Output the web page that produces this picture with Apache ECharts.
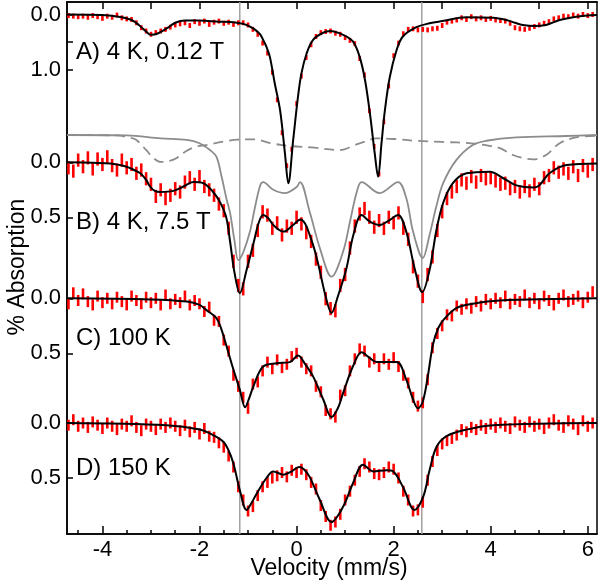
<!DOCTYPE html>
<html>
<head>
<meta charset="utf-8">
<script src="https://cdn.jsdelivr.net/npm/echarts/dist/echarts.min.js"></script>
<style>html,body{margin:0;padding:0;background:#fff}#c{width:600px;height:584px}</style>
</head>
<body>
<div id="c"></div>
<script>
// ---------- data ----------
const velocity = [-4.7,-4.6,-4.5,-4.4,-4.3,-4.2,-4.1,-4.0,-3.9,-3.8,-3.7,-3.6,-3.5,-3.4,-3.3,-3.2,-3.1,-3.0,-2.9,-2.8,-2.7,-2.6,-2.5,-2.4,-2.3,-2.2,-2.1,-2.0,-1.9,-1.8,-1.7,-1.6,-1.5,-1.4,-1.3,-1.2,-1.1,-1.0,-0.9,-0.8,-0.7,-0.6,-0.5,-0.4,-0.3,-0.2,-0.1,0.0,0.1,0.2,0.3,0.4,0.5,0.6,0.7,0.8,0.9,1.0,1.1,1.2,1.3,1.4,1.5,1.6,1.7,1.8,1.9,2.0,2.1,2.2,2.3,2.4,2.5,2.6,2.7,2.8,2.9,3.0,3.1,3.2,3.3,3.4,3.5,3.6,3.7,3.8,3.9,4.0,4.1,4.2,4.3,4.4,4.5,4.6,4.7,4.8,4.9,5.0,5.1,5.2,5.3,5.4,5.5,5.6,5.7,5.8,5.9,6.0,6.1];

const dataA = [0.02,0.03,0.04,0.03,0.05,0.02,0.04,0.07,0.03,0.05,0.01,0.06,0.08,0.09,0.15,0.24,0.30,0.36,0.33,0.30,0.27,0.23,0.19,0.17,0.15,0.20,0.13,0.16,0.12,0.18,0.14,0.12,0.16,0.14,0.18,0.15,0.15,0.19,0.27,0.36,0.52,0.70,1.05,1.55,2.15,2.75,2.45,1.62,1.12,0.78,0.55,0.40,0.33,0.31,0.30,0.34,0.36,0.42,0.47,0.53,0.80,1.10,1.75,2.40,2.90,1.95,1.30,0.75,0.52,0.35,0.27,0.26,0.28,0.27,0.28,0.26,0.25,0.20,0.14,0.12,0.10,0.06,0.09,0.04,0.08,0.06,0.09,0.07,0.10,0.11,0.12,0.16,0.24,0.26,0.27,0.25,0.22,0.19,0.16,0.13,0.08,0.06,0.03,0.04,0.01,0.03,0.00,0.02,0.00];

const dataB = [0.05,0.08,-0.02,0.04,-0.04,0.06,-0.03,0.02,-0.05,0.03,0.07,-0.02,0.05,0.02,0.10,0.07,0.15,0.20,0.31,0.25,0.33,0.30,0.24,0.27,0.18,0.14,0.20,0.13,0.22,0.25,0.30,0.38,0.44,0.60,0.90,1.12,1.15,0.90,0.80,0.62,0.45,0.48,0.60,0.55,0.66,0.58,0.60,0.50,0.56,0.64,0.72,0.88,1.00,1.24,1.33,1.35,1.12,1.02,0.78,0.58,0.47,0.42,0.50,0.59,0.53,0.60,0.50,0.55,0.46,0.60,0.70,0.95,1.08,1.22,1.02,0.86,0.62,0.45,0.33,0.27,0.22,0.16,0.19,0.13,0.18,0.12,0.15,0.14,0.17,0.20,0.19,0.24,0.22,0.27,0.22,0.26,0.20,0.24,0.14,0.12,0.05,0.09,0.06,0.10,0.04,0.12,0.03,0.08,0.02];

const dataC = [0.05,-0.05,0.02,-0.04,0.03,0.06,-0.02,0.04,0.00,0.05,-0.01,0.03,0.06,-0.02,0.02,0.05,-0.01,0.04,0.00,0.06,-0.03,0.05,0.01,0.04,-0.02,0.06,0.02,0.05,0.12,0.08,0.20,0.21,0.38,0.48,0.70,0.80,0.90,1.00,0.78,0.76,0.66,0.58,0.64,0.56,0.63,0.60,0.53,0.50,0.58,0.64,0.66,0.80,0.85,1.02,1.05,1.08,0.88,0.84,0.66,0.55,0.46,0.48,0.58,0.55,0.62,0.55,0.60,0.54,0.62,0.70,0.77,0.90,0.98,0.95,0.74,0.45,0.32,0.25,0.15,0.16,0.07,0.10,0.05,0.09,0.03,0.07,0.01,0.05,0.00,0.04,-0.02,0.05,0.01,0.03,-0.03,0.04,0.00,0.05,-0.02,0.02,0.06,0.00,-0.03,0.03,0.01,-0.02,0.04,-0.01,-0.06];

const dataD = [0.02,-0.03,0.03,0.00,0.04,-0.01,0.02,0.05,0.00,0.03,0.06,0.01,0.03,-0.02,0.04,0.07,0.01,0.03,0.06,0.01,0.04,0.00,0.03,0.07,0.02,0.08,0.04,0.10,0.05,0.12,0.13,0.18,0.22,0.30,0.40,0.58,0.70,0.80,0.76,0.66,0.58,0.54,0.50,0.48,0.45,0.49,0.43,0.45,0.42,0.47,0.54,0.60,0.75,0.85,0.93,0.90,0.83,0.70,0.62,0.52,0.44,0.37,0.40,0.46,0.47,0.45,0.40,0.42,0.50,0.62,0.70,0.80,0.79,0.72,0.52,0.35,0.25,0.19,0.16,0.14,0.11,0.06,0.08,0.04,0.06,0.02,0.05,0.01,0.04,0.00,0.03,0.05,-0.01,0.02,0.04,-0.01,0.03,0.01,0.05,0.00,-0.03,0.02,0.04,-0.02,0.01,0.06,-0.02,0.03,0.00];

const errA = 0.045, errB = 0.06, errC = 0.05, errD = 0.05;

const fitA = [[-4.73,0.00],[-4.0,0.01],[-3.6,0.05],[-3.4,0.10],[-3.25,0.19],[-3.1,0.31],[-3.0,0.37],[-2.85,0.34],[-2.67,0.25],[-2.5,0.15],[-2.3,0.11],[-2.0,0.11],[-1.6,0.13],[-1.3,0.14],[-1.1,0.17],[-0.96,0.22],[-0.85,0.28],[-0.75,0.36],[-0.69,0.46],[-0.62,0.59],[-0.55,0.77],[-0.45,1.25],[-0.34,1.74],[-0.24,2.52],[-0.17,3.07],[-0.07,2.28],[0.03,1.49],[0.10,1.07],[0.21,0.70],[0.34,0.46],[0.55,0.33],[0.69,0.30],[0.96,0.37],[1.16,0.49],[1.30,0.77],[1.41,1.19],[1.51,1.79],[1.61,2.52],[1.68,2.95],[1.75,2.34],[1.82,1.74],[1.92,1.14],[2.06,0.65],[2.19,0.40],[2.47,0.23],[2.74,0.16],[3.0,0.12],[3.5,0.05],[4.05,0.06],[4.32,0.10],[4.5,0.15],[4.66,0.19],[4.9,0.21],[5.14,0.19],[5.42,0.10],[5.76,0.04],[6.19,0.01]];

const fitB = [[-4.73,0.00],[-4.2,0.005],[-3.84,0.01],[-3.5,0.04],[-3.35,0.07],[-3.22,0.10],[-3.1,0.16],[-3.02,0.22],[-2.92,0.26],[-2.81,0.27],[-2.54,0.26],[-2.33,0.22],[-2.13,0.18],[-1.92,0.19],[-1.72,0.27],[-1.58,0.36],[-1.45,0.50],[-1.37,0.72],[-1.28,1.00],[-1.17,1.19],[-1.03,0.98],[-0.89,0.74],[-0.78,0.55],[-0.69,0.48],[-0.58,0.51],[-0.48,0.57],[-0.27,0.63],[-0.07,0.57],[0.08,0.52],[0.18,0.56],[0.27,0.66],[0.38,0.81],[0.48,0.99],[0.60,1.22],[0.72,1.37],[0.85,1.22],[1.03,0.96],[1.17,0.66],[1.34,0.48],[1.51,0.54],[1.71,0.57],[1.90,0.53],[2.09,0.48],[2.26,0.63],[2.43,0.96],[2.59,1.18],[2.74,0.98],[2.88,0.62],[3.02,0.37],[3.22,0.19],[3.5,0.10],[3.98,0.085],[4.26,0.145],[4.53,0.21],[4.87,0.23],[5.0,0.21],[5.21,0.10],[5.56,0.025],[6.19,0.01]];

const fitC = [[-4.73,0.00],[-3.0,0.01],[-2.26,0.03],[-2.0,0.06],[-1.85,0.11],[-1.65,0.18],[-1.55,0.28],[-1.44,0.44],[-1.30,0.65],[-1.17,0.83],[-1.06,0.99],[-0.97,0.90],[-0.89,0.80],[-0.69,0.62],[-0.41,0.59],[-0.14,0.58],[0.03,0.52],[0.18,0.60],[0.34,0.71],[0.55,0.92],[0.72,1.08],[0.85,1.00],[0.96,0.86],[1.16,0.62],[1.34,0.49],[1.5,0.54],[1.65,0.58],[2.06,0.58],[2.26,0.74],[2.40,0.92],[2.50,1.00],[2.60,0.94],[2.70,0.72],[2.81,0.42],[2.92,0.27],[3.02,0.20],[3.29,0.09],[3.63,0.05],[4.18,0.02],[6.19,0.00]];

const fitD = [[-4.73,0.00],[-2.68,0.02],[-1.99,0.06],[-1.72,0.11],[-1.51,0.17],[-1.40,0.25],[-1.30,0.37],[-1.17,0.61],[-1.03,0.79],[-0.92,0.72],[-0.82,0.64],[-0.62,0.50],[-0.48,0.44],[-0.27,0.47],[-0.1,0.44],[0.05,0.40],[0.15,0.42],[0.27,0.49],[0.48,0.70],[0.72,0.90],[0.96,0.76],[1.16,0.55],[1.37,0.38],[1.58,0.44],[1.86,0.43],[1.99,0.44],[2.19,0.58],[2.43,0.79],[2.61,0.67],[2.74,0.43],[2.88,0.22],[3.09,0.12],[3.5,0.06],[4.05,0.02],[6.19,0.00]];

// subspectra of panel B (plotted on panel B scale, shifted upward)
const compSolid = [[-4.73,-0.248],[-3.5,-0.244],[-2.8,-0.218],[-2.26,-0.203],[-2.0,-0.173],[-1.78,-0.11],[-1.65,-0.05],[-1.55,0.12],[-1.44,0.34],[-1.37,0.46],[-1.28,0.71],[-1.2,0.89],[-1.1,0.82],[-0.96,0.63],[-0.86,0.415],[-0.75,0.21],[-0.69,0.18],[-0.48,0.25],[-0.24,0.28],[0.0,0.225],[0.07,0.18],[0.27,0.45],[0.48,0.78],[0.72,1.04],[0.96,0.81],[1.10,0.54],[1.24,0.27],[1.34,0.18],[1.71,0.28],[2.09,0.18],[2.26,0.325],[2.40,0.63],[2.6,0.87],[2.74,0.66],[2.88,0.40],[3.02,0.19],[3.29,-0.02],[3.63,-0.157],[3.91,-0.196],[4.53,-0.227],[5.56,-0.239],[6.19,-0.248]];

const compDash = [[-4.73,-0.248],[-3.7,-0.244],[-3.45,-0.225],[-3.3,-0.203],[-3.1,-0.112],[-2.95,-0.04],[-2.8,-0.003],[-2.6,-0.016],[-2.47,-0.04],[-2.3,-0.094],[-2.1,-0.139],[-1.8,-0.162],[-1.5,-0.189],[-1.2,-0.207],[-0.9,-0.209],[-0.5,-0.171],[-0.14,-0.148],[0.3,-0.135],[0.9,-0.112],[1.2,-0.157],[1.4,-0.187],[1.64,-0.218],[2.0,-0.212],[2.5,-0.194],[3.0,-0.185],[3.6,-0.173],[4.0,-0.148],[4.2,-0.127],[4.46,-0.066],[4.7,-0.035],[4.87,-0.027],[5.14,-0.066],[5.42,-0.173],[5.76,-0.227],[6.19,-0.242]];

const refLines = [-1.17, 2.58];

const xLabelTicks = [-4,-2,0,2,4,6];
const xIntTicks = [-4,-3,-2,-1,0,1,2,3,4,5,6];
const xMinorTicks = [-4.5,-3.5,-3,-2.5,-1.5,-1,-0.5,0.5,1,1.5,2.5,3,3.5,4.5,5,5.5];

const panelLabels = ['A) 4 K, 0.12 T', 'B) 4 K, 7.5 T', 'C) 100 K', 'D) 150 K'];

// ---------- chart ----------
const FONT = '"Liberation Sans", Arial, sans-serif';
const chart = echarts.init(document.getElementById('c'), null, {renderer: 'canvas'});

const X0 = -4.73, X1 = 6.19;
function yAx(min, max, ticks, labels, showLine) {
  return {
    type: 'value', gridIndex: 0, position: 'left', inverse: true, min: min, max: max,
    splitLine: {show: false},
    axisLine: {show: showLine, onZero: false, lineStyle: {color: '#000', width: 1.5}},
    axisTick: {show: true, inside: true, length: 6, customValues: ticks, lineStyle: {color: '#000', width: 1.5}},
    axisLabel: {show: true, customValues: labels, formatter: v => Number(v).toFixed(1), fontSize: 22, color: '#000', fontFamily: FONT, margin: 6}
  };
}

function bars(data, err, yIdx) {
  return {
    type: 'custom', xAxisIndex: 0, yAxisIndex: yIdx, clip: false, z: 3,
    data: velocity.map((v, i) => [v, data[i], err]),
    renderItem: function (params, api) {
      const x = api.value(0), y = api.value(1), e = api.value(2);
      const p1 = api.coord([x, y - e]), p2 = api.coord([x, y + e]);
      return {type: 'rect', shape: {x: p1[0] - 1.3, y: Math.min(p1[1], p2[1]), width: 2.6, height: Math.abs(p2[1] - p1[1])}, style: {fill: '#ff0000'}};
    }
  };
}
function fit(data, yIdx) {
  return {type: 'line', xAxisIndex: 0, yAxisIndex: yIdx, data: data, smooth: 0.35, showSymbol: false, symbol: 'none', z: 5,
    lineStyle: {color: '#000', width: 2}};
}

const series = [];
refLines.forEach(v => series.push({type: 'line', xAxisIndex: 0, yAxisIndex: 4, data: [[v, 0], [v, 1]], showSymbol: false, symbol: 'none', z: 1,
  lineStyle: {color: '#a0a0a0', width: 1.5}}));
series.push({type: 'line', xAxisIndex: 0, yAxisIndex: 1, data: compSolid, smooth: 0.35, symbol: 'none', z: 2, lineStyle: {color: '#8c8c8c', width: 1.8}});
series.push({type: 'line', xAxisIndex: 0, yAxisIndex: 1, data: compDash, smooth: 0.35, symbol: 'none', z: 2, lineStyle: {color: '#8c8c8c', width: 1.8, type: [10, 6]}});
series.push(bars(dataA, errA, 0), bars(dataB, errB, 1), bars(dataC, errC, 2), bars(dataD, errD, 3));
series.push(fit(fitA, 0), fit(fitB, 1), fit(fitC, 2), fit(fitD, 3));

const graphics = [];
const labelY = [52, 222, 338, 468];
panelLabels.forEach((t, i) => graphics.push({type: 'text', x: 76, y: labelY[i], z: 10,
  style: {text: t, fontSize: 24, fontFamily: FONT, fill: '#000', verticalAlign: 'middle', align: 'left'}}));
graphics.push({type: 'text', x: 18, y: 267, rotation: Math.PI / 2, z: 10,
  style: {text: '% Absorption', fontSize: 23, fontFamily: FONT, fill: '#000', align: 'center', verticalAlign: 'middle'}});
graphics.push({type: 'text', x: 329, y: 569, z: 10,
  style: {text: 'Velocity (mm/s)', fontSize: 23, fontFamily: FONT, fill: '#000', align: 'center', verticalAlign: 'middle'}});

chart.setOption({
  animation: false,
  backgroundColor: '#fff',
  grid: {left: 67, top: 2, width: 530, height: 532, show: true, borderColor: '#000', borderWidth: 1.5, backgroundColor: 'transparent'},
  xAxis: [
    {type: 'value', gridIndex: 0, position: 'bottom', min: X0, max: X1, splitLine: {show: false},
      axisLine: {show: true, onZero: false, lineStyle: {color: '#000', width: 1.5}},
      axisTick: {inside: true, length: 8, customValues: xLabelTicks, lineStyle: {color: '#000', width: 1.5}},
      axisLabel: {customValues: xLabelTicks, fontSize: 22, color: '#000', fontFamily: FONT, margin: 5}},
    {type: 'value', gridIndex: 0, position: 'bottom', min: X0, max: X1, splitLine: {show: false},
      axisLine: {show: false, onZero: false},
      axisTick: {inside: true, length: 4, customValues: xMinorTicks, lineStyle: {color: '#000', width: 1.5}},
      axisLabel: {show: false}},
    {type: 'value', gridIndex: 0, position: 'top', min: X0, max: X1, splitLine: {show: false},
      axisLine: {show: true, onZero: false, lineStyle: {color: '#000', width: 1.5}},
      axisTick: {inside: true, length: 7, customValues: xIntTicks, lineStyle: {color: '#000', width: 1.5}},
      axisLabel: {show: false}}
  ],
  yAxis: [
    yAx(-0.2273, 9.4455, [0, 0.5, 1.0], [0, 1.0], true),
    yAx(-1.4573, 3.3791, [0, 0.5], [0, 0.5], false),
    yAx(-2.6936, 2.1427, [0, 0.5], [0, 0.5], false),
    yAx(-3.8273, 1.0091, [0, 0.5], [0, 0.5], false),
    {type: 'value', gridIndex: 0, min: 0, max: 1, show: false}
  ],
  series: series,
  graphic: graphics
});
</script>
</body>
</html>
